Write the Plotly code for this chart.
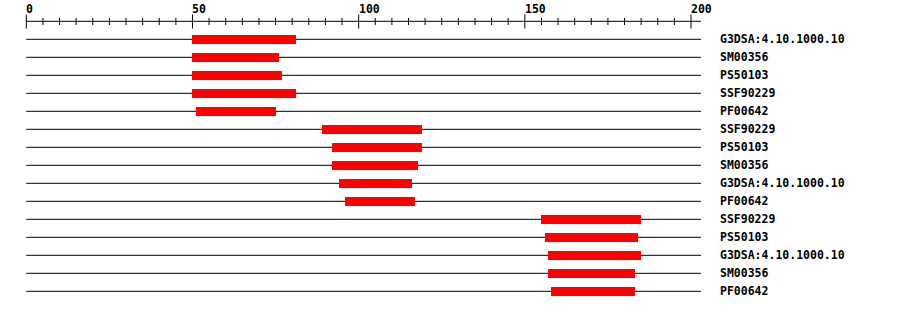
import plotly.graph_objects as go

# ---- data ----
labels = ["G3DSA:4.10.1000.10", "SM00356", "PS50103", "SSF90229", "PF00642",
          "SSF90229", "PS50103", "SM00356", "G3DSA:4.10.1000.10", "PF00642",
          "SSF90229", "PS50103", "G3DSA:4.10.1000.10", "SM00356", "PF00642"]
starts = [50, 50, 50, 50, 51, 89, 92, 92, 94, 96, 155, 156, 157, 157, 158]
ends = [81, 76, 77, 81, 75, 119, 119, 118, 116, 117, 185, 184, 185, 183, 183]
seq_length = 203
major_ticks = [0, 50, 100, 150, 200]
minor_ticks = list(range(0, 201, 5))

# ---- layout geometry (pixel mapping) ----
W, H = 900, 310
x0px, xscale = 26.3, 3.3235          # px of value 0, px per unit
row0px, rowstep = 39.3, 18.0         # px of first row, px per row
xr = [-x0px / xscale, (W - x0px) / xscale]
yr = [(H - row0px) / rowstep, -row0px / rowstep]
def ypx(p):
    return (p - row0px) / rowstep

fig = go.Figure()

# row lines (below the bars)
for i in range(len(labels)):
    fig.add_shape(type="line", x0=0, x1=seq_length, y0=i, y1=i, layer="below",
                  line=dict(color="black", width=1))

# bars
fig.add_trace(go.Bar(y=list(range(len(labels))), x=[e - s for s, e in zip(starts, ends)],
                     base=starts, orientation="h", width=0.5,
                     marker=dict(color="#ff0000", line=dict(width=0)),
                     hoverinfo="skip", showlegend=False))

# axis line and ticks
ay = ypx(21.3)
fig.add_shape(type="line", x0=0, x1=seq_length, y0=ay, y1=ay, line=dict(color="black", width=1))
for t in minor_ticks:
    if t in major_ticks:
        h0, h1 = ypx(14.5), ypx(28.5)
    else:
        h0, h1 = ypx(18), ypx(25)
    fig.add_shape(type="line", x0=t, x1=t, y0=h0, y1=h1, line=dict(color="black", width=1))
for t in major_ticks:
    fig.add_annotation(x=t, y=ypx(8.5), text=str(t), showarrow=False, xanchor="left",
                       yanchor="middle", xshift=-2,
                       font=dict(family="DejaVu Sans Mono", size=11.5, color="black", weight="bold"))

# labels
for i, lab in enumerate(labels):
    fig.add_annotation(x=(720 - x0px) / xscale, y=i, text=lab, showarrow=False,
                       xanchor="left", yanchor="middle", xshift=-2,
                       font=dict(family="DejaVu Sans Mono", size=11.5, color="black", weight="bold"))

fig.update_layout(width=W, height=H, margin=dict(l=0, r=0, t=0, b=0),
                  plot_bgcolor="white", paper_bgcolor="white", bargap=0,
                  xaxis=dict(range=xr, visible=False, fixedrange=True),
                  yaxis=dict(range=yr, visible=False, fixedrange=True))
fig.write_html("out.html", config={"displayModeBar": False})
